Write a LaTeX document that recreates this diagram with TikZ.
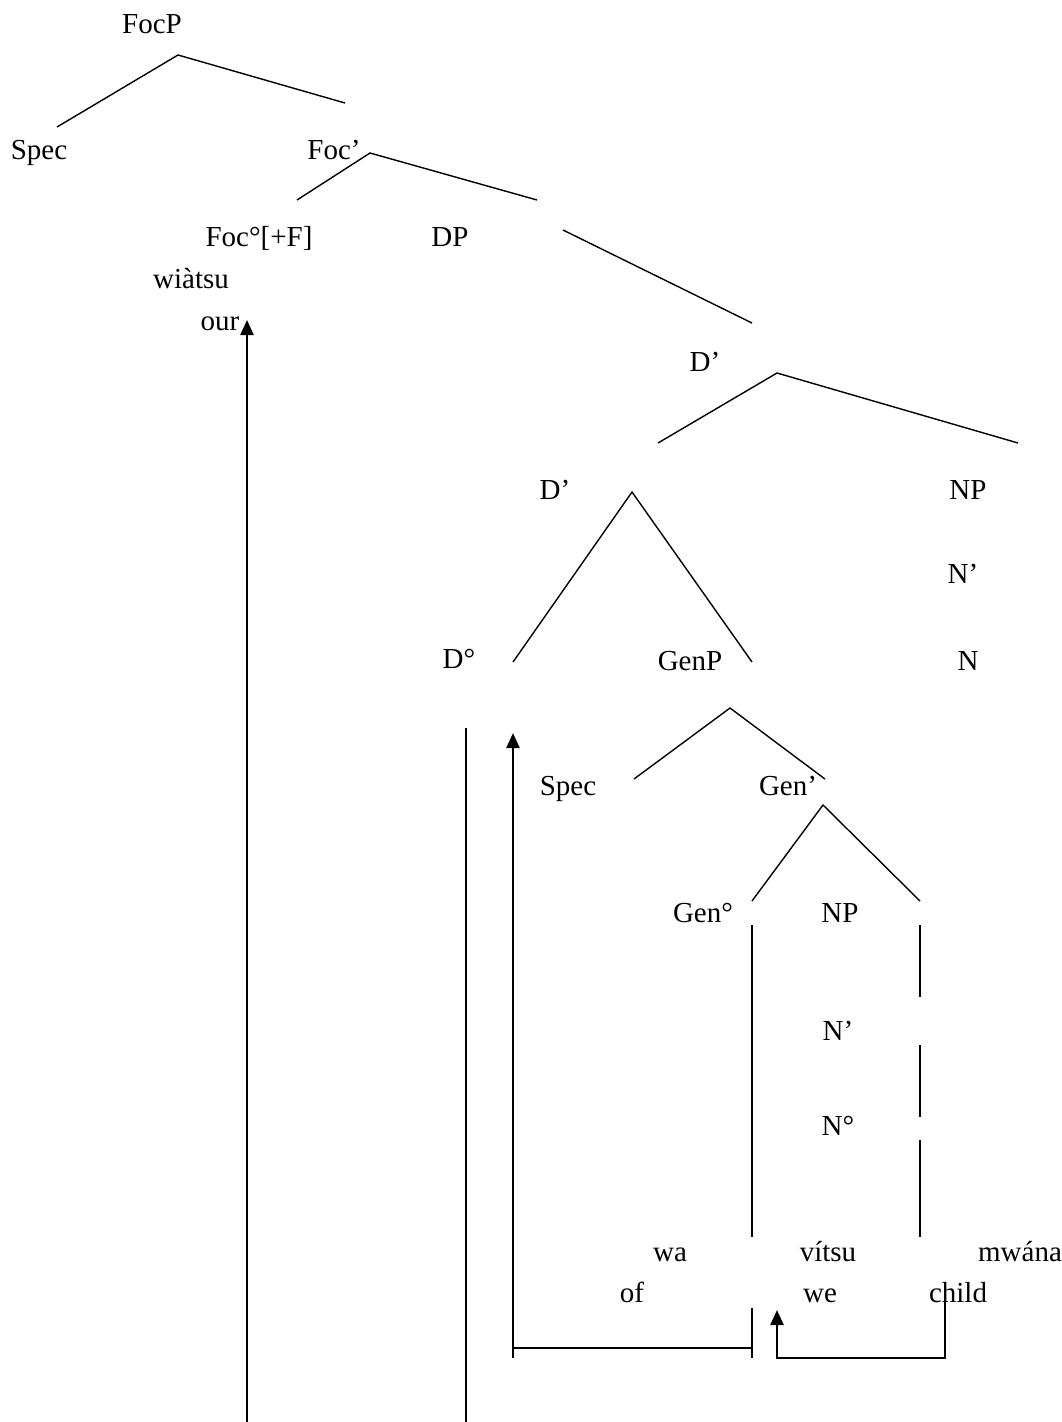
\documentclass[tikz,border=0pt]{standalone}
\usepackage{fontspec}
\setmainfont{Liberation Serif}
\usepackage{tikz}
\usetikzlibrary{arrows.meta}

\begin{document}
\begin{tikzpicture}[x=1pt, y=-1pt, line width=1.4pt,
    lbl/.style={anchor=base, inner sep=0pt, font=\fontsize{29}{34}\selectfont},
    mv/.style={line width=2.4pt, -{Triangle[length=15pt,width=13pt]}},
    thick line/.style={line width=2.4pt}]
  \useasboundingbox (0,0) rectangle (1062,1422);
  \node[lbl] (focp) at (152,33) {FocP};
  \node[lbl] (spec1) at (39,159) {Spec};
  \node[lbl] (focbar) at (334,159) {Foc’};
  \node[lbl] (foc0) at (259,246) {Foc°[+F]};
  \node[lbl] (dp) at (450,246) {DP};
  \node[lbl] (wiatsu) at (191,288) {wiàtsu};
  \node[lbl] (our) at (220,330) {our};
  \node[lbl] (dbar1) at (705,371) {D’};
  \node[lbl] (dbar2) at (555,499) {D’};
  \node[lbl] (np1) at (968,499) {NP};
  \node[lbl] (nbar1) at (963,583) {N’};
  \node[lbl] (d0) at (459,668) {D°};
  \node[lbl] (genp) at (690,670) {GenP};
  \node[lbl] (n1) at (968,670) {N};
  \node[lbl] (spec2) at (568,795) {Spec};
  \node[lbl] (genbar) at (788,795) {Gen’};
  \node[lbl] (gen0) at (703,922) {Gen°};
  \node[lbl] (np2) at (840,922) {NP};
  \node[lbl] (nbar2) at (838,1040) {N’};
  \node[lbl] (n0) at (838,1135) {N°};
  \node[lbl] (wa) at (670,1261) {wa};
  \node[lbl] (vitsu) at (828,1261) {vítsu};
  \node[lbl] (mwana) at (1020,1261) {mwána};
  \node[lbl] (of) at (632,1302) {of};
  \node[lbl] (we) at (820,1302) {we};
  \node[lbl] (child) at (958,1302) {child};

  \coordinate (focp-t) at (178,55);
  \coordinate (focp-l) at (57,127);
  \coordinate (focp-r) at (345,103);
  \coordinate (focbar-t) at (370,153);
  \coordinate (focbar-l) at (297,200);
  \coordinate (focbar-r) at (537,200);
  \coordinate (dp-a) at (563,230);
  \coordinate (dp-b) at (752,323);
  \coordinate (dbar1-t) at (777,373);
  \coordinate (dbar1-l) at (658,443);
  \coordinate (dbar1-r) at (1018,443);
  \coordinate (dbar2-t) at (632,492);
  \coordinate (dbar2-l) at (513,662);
  \coordinate (dbar2-r) at (752,662);
  \coordinate (genp-t) at (730,708);
  \coordinate (genp-l) at (634,779);
  \coordinate (genp-r) at (825,779);
  \coordinate (genbar-t) at (823,805);
  \coordinate (genbar-l) at (752,901);
  \coordinate (genbar-r) at (920,901);

  \draw (focp-l) -- (focp-t) -- (focp-r);
  \draw (focbar-l) -- (focbar-t) -- (focbar-r);
  \draw (dp-a) -- (dp-b);
  \draw (dbar1-l) -- (dbar1-t) -- (dbar1-r);
  \draw (dbar2-l) -- (dbar2-t) -- (dbar2-r);
  \draw (genp-l) -- (genp-t) -- (genp-r);
  \draw (genbar-l) -- (genbar-t) -- (genbar-r);

  \coordinate (gen-v1) at (752,925);
  \coordinate (gen-v2) at (752,1237);
  \draw (gen-v1) -- (gen-v2);
  \foreach \ya/\yb in {925/997, 1045/1117, 1140/1237}
    \draw (920,\ya) -- (920,\yb);

  \coordinate (our-foot) at (247,1422);
  \coordinate (our-tip) at (247,320);
  \draw[mv] (our-foot) -- (our-tip);
  \coordinate (d0-top) at (466,728);
  \coordinate (d0-foot) at (466,1422);
  \draw[thick line] (d0-top) -- (d0-foot);

  \coordinate (wa-foot) at (513,1358);
  \coordinate (wa-tip) at (513,733);
  \coordinate (wa-end) at (752,1348);
  \draw[mv] (wa-foot) -- (wa-tip);
  \draw[line width=1.8pt] (wa-foot |- wa-end) -- (wa-end);
  \draw (752,1308) -- (752,1358);

  \coordinate (child-top) at (945,1297);
  \coordinate (child-foot) at (945,1358);
  \coordinate (we-tip) at (777,1310);
  \draw[mv] (child-top) -- (child-foot) -- (we-tip |- child-foot) -- (we-tip);
\end{tikzpicture}
\end{document}
